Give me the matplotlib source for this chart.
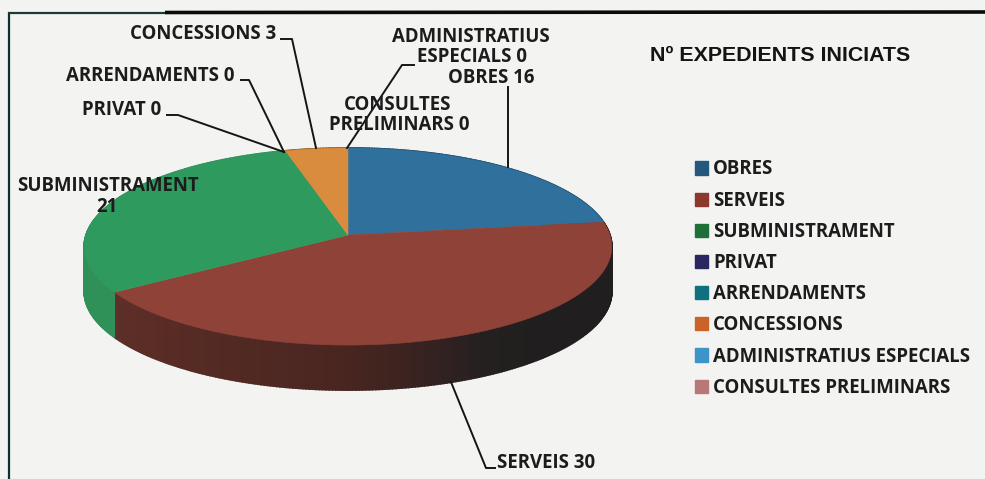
import numpy as np
import matplotlib
matplotlib.use("Agg")
import matplotlib.pyplot as plt
from matplotlib.patches import Polygon, Patch
from matplotlib.colors import to_rgb

categories = ["OBRES", "SERVEIS", "SUBMINISTRAMENT", "PRIVAT", "ARRENDAMENTS",
              "CONCESSIONS", "ADMINISTRATIUS ESPECIALS", "CONSULTES PRELIMINARS"]
values = [16, 30, 21, 0, 0, 3, 0, 0]
top_colors = ["#2f719c", "#8f4238", "#2f9a5e", "#2b2560", "#0f7080", "#d98b3e", "#3d94c8", "#b87878"]
legend_colors = ["#24587c", "#8c382c", "#1f7038", "#2b2560", "#0f7080", "#c9632a", "#3d94c8", "#b87878"]
title = "Nº EXPEDIENTS INICIATS"

labels = [
    ("CONCESSIONS 3", 203, 34), ("ARRENDAMENTS 0", 150, 76), ("PRIVAT 0", 122, 110),
    ("ADMINISTRATIUS", 471, 37), ("ESPECIALS 0", 472, 57), ("OBRES 16", 491, 78),
    ("CONSULTES", 398, 105), ("PRELIMINARS 0", 399, 125),
    ("SUBMINISTRAMENT", 108, 186), ("21", 107, 207), ("SERVEIS 30", 546, 463),
]
leaders = [
    ([281, 292, 316], [39, 39, 148]),
    ([241, 249, 284], [80, 80, 152]),
    ([167, 178, 284], [115, 115, 152]),
    ([414, 402, 347], [65, 65, 148]),
    ([508, 508], [87, 167]),
    ([451, 486, 495], [382, 468, 468]),
]

PAPER = "#f3f3f1"
fig = plt.figure(figsize=(9.85, 4.79), dpi=100, facecolor=PAPER)
ax = fig.add_axes([0, 0, 1, 1])
ax.set_xlim(0, 985)
ax.set_ylim(479, 0)
ax.axis("off")

# frame
ax.plot([9, 9], [479, 12], color="#10302e", lw=1.6, solid_capstyle="butt", zorder=1)
ax.plot([8, 165], [13, 13], color="#1d3a38", lw=1.6, solid_capstyle="butt", zorder=1)
ax.plot([165, 985], [12.5, 12], color="#0a0a0a", lw=2.6, solid_capstyle="butt", zorder=1)

# perspective projection of a tilted circular disc
CX, CY, RX, RY, K, DEPTH = 348, 235, 262, 97.2, 0.117, 45


def project(theta):
    u, v = np.sin(theta), np.cos(theta)
    w = 1 + K * v
    return CX + RX * u / w, CY - RY * v / w


angles = np.cumsum([0] + values) / sum(values) * 2 * np.pi

WALL_DEG = [140, 152, 168, 182, 237]
WALL_COL = [to_rgb(c) for c in ["#201e1e", "#242020", "#3a2320", "#4a2620", "#5f2f28"]]


def wall_color(i, t):
    deg = np.degrees(t)
    if i == 1:  # SERVEIS: reddish brown on the left fading to black on the right
        return tuple(np.interp(deg, WALL_DEG, [c[k] for c in WALL_COL]) for k in range(3))
    if i == 2:
        return "#2f9058"
    return tuple(np.array(to_rgb(top_colors[i])) * 0.6)


# side wall
for i, val in enumerate(values):
    if val == 0:
        continue
    ts = np.linspace(angles[i], angles[i + 1], max(int(val * 8), 4))
    for t0, t1 in zip(ts[:-1], ts[1:]):
        x0, y0 = project(t0)
        x1, y1 = project(t1)
        c = wall_color(i, (t0 + t1) / 2)
        ax.add_patch(Polygon([(x0, y0), (x1, y1), (x1, y1 + DEPTH), (x0, y0 + DEPTH)],
                             closed=True, fc=c, ec=c, lw=1.2, zorder=2))

# top face
for i, val in enumerate(values):
    if val == 0:
        continue
    ts = np.linspace(angles[i], angles[i + 1], 120)
    xs, ys = project(ts)
    pts = [(CX, CY)] + list(zip(xs, ys))
    ax.add_patch(Polygon(pts, closed=True, fc=top_colors[i], ec=top_colors[i], lw=0.4, zorder=3))

# leaders and labels
for lx, ly in leaders:
    ax.plot(lx, ly, color="#151515", lw=1.4, zorder=4, solid_joinstyle="round")
for text, x, y in labels:
    ax.text(x, y, text, ha="center", va="center", fontsize=13.4, fontweight="bold",
            family="Open Sans", color="#1c1c1c", zorder=5)

ax.text(650, 55.5, title, ha="left", va="center", fontsize=15.4, fontweight="bold",
        family="Liberation Sans", color="#141414", zorder=5)

handles = [Patch(fc=c, ec=c) for c in legend_colors]
ax.legend(handles, categories, loc="upper left", bbox_to_anchor=(695 / 985, 1 - 159.5 / 479),
          frameon=False, ncol=1, handlelength=0.7, handleheight=0.7, handletextpad=0.27,
          labelspacing=0.6, borderpad=0, borderaxespad=0,
          prop={"family": "Open Sans", "weight": "bold", "size": 13.4}, labelcolor="#1c1c1c")

fig.savefig("out.png", dpi=100, facecolor=PAPER)
